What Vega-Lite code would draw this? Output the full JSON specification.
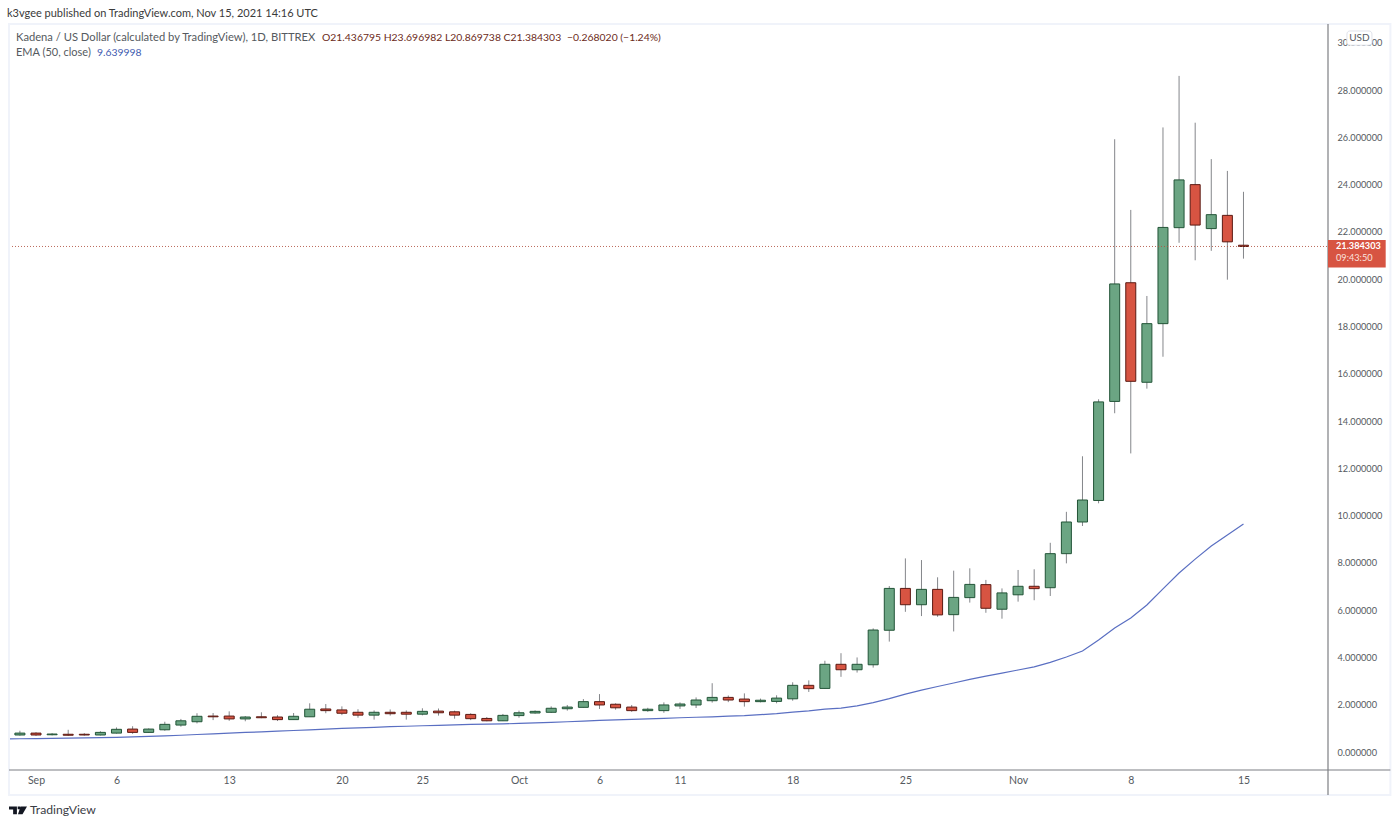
{
  "$schema": "https://vega.github.io/schema/vega-lite/v6.json",
  "description": "Kadena / US Dollar daily candles with EMA 50",
  "autosize": "none",
  "width": 1319,
  "height": 746,
  "padding": {"left": 9, "top": 24, "right": 72, "bottom": 57},
  "background": "#ffffff",
  "title": {
    "text": "k3vgee published on TradingView.com, Nov 15, 2021 14:16 UTC",
    "anchor": "start",
    "frame": "group",
    "dx": -2,
    "offset": 4,
    "font": "Lato",
    "fontSize": 11,
    "fontWeight": "normal",
    "color": "#3a3a3a"
  },
  "config": {
    "view": {"stroke": null},
    "font": "Lato",
    "text": {"font": "Lato"}
  },
  "data": {
    "values": [
      {"date": "2021-08-30", "open": 0.76, "high": 0.8, "low": 0.72, "close": 0.74, "ema": 0.55},
      {"date": "2021-08-31", "open": 0.72, "high": 0.9, "low": 0.69, "close": 0.8, "ema": 0.56},
      {"date": "2021-09-01", "open": 0.8, "high": 0.84, "low": 0.68, "close": 0.72, "ema": 0.57},
      {"date": "2021-09-02", "open": 0.73, "high": 0.8, "low": 0.7, "close": 0.76, "ema": 0.58},
      {"date": "2021-09-03", "open": 0.75, "high": 0.94, "low": 0.68, "close": 0.71, "ema": 0.59},
      {"date": "2021-09-04", "open": 0.75, "high": 0.8, "low": 0.69, "close": 0.72, "ema": 0.6},
      {"date": "2021-09-05", "open": 0.72, "high": 0.88, "low": 0.7, "close": 0.83, "ema": 0.61},
      {"date": "2021-09-06", "open": 0.8, "high": 1.04, "low": 0.78, "close": 0.96, "ema": 0.62},
      {"date": "2021-09-07", "open": 0.97, "high": 1.09, "low": 0.77, "close": 0.83, "ema": 0.64},
      {"date": "2021-09-08", "open": 0.83, "high": 1.0, "low": 0.81, "close": 0.97, "ema": 0.66},
      {"date": "2021-09-09", "open": 0.94, "high": 1.28, "low": 0.9, "close": 1.17, "ema": 0.68},
      {"date": "2021-09-10", "open": 1.14, "high": 1.4, "low": 1.07, "close": 1.32, "ema": 0.71},
      {"date": "2021-09-11", "open": 1.28, "high": 1.64, "low": 1.21, "close": 1.51, "ema": 0.74},
      {"date": "2021-09-12", "open": 1.52, "high": 1.65, "low": 1.35, "close": 1.49, "ema": 0.77},
      {"date": "2021-09-13", "open": 1.52, "high": 1.72, "low": 1.32, "close": 1.4, "ema": 0.8},
      {"date": "2021-09-14", "open": 1.4, "high": 1.52, "low": 1.3, "close": 1.48, "ema": 0.83},
      {"date": "2021-09-15", "open": 1.49, "high": 1.68, "low": 1.43, "close": 1.45, "ema": 0.85},
      {"date": "2021-09-16", "open": 1.48, "high": 1.56, "low": 1.31, "close": 1.37, "ema": 0.88},
      {"date": "2021-09-17", "open": 1.37, "high": 1.65, "low": 1.36, "close": 1.51, "ema": 0.91},
      {"date": "2021-09-18", "open": 1.49, "high": 2.06, "low": 1.49, "close": 1.81, "ema": 0.94},
      {"date": "2021-09-19", "open": 1.82, "high": 2.03, "low": 1.64, "close": 1.75, "ema": 0.97},
      {"date": "2021-09-20", "open": 1.78, "high": 1.93, "low": 1.56, "close": 1.64, "ema": 1.0},
      {"date": "2021-09-21", "open": 1.68, "high": 1.81, "low": 1.45, "close": 1.56, "ema": 1.02},
      {"date": "2021-09-22", "open": 1.56, "high": 1.76, "low": 1.37, "close": 1.68, "ema": 1.04},
      {"date": "2021-09-23", "open": 1.68, "high": 1.8, "low": 1.54, "close": 1.62, "ema": 1.07},
      {"date": "2021-09-24", "open": 1.68, "high": 1.76, "low": 1.37, "close": 1.6, "ema": 1.09},
      {"date": "2021-09-25", "open": 1.6, "high": 1.85, "low": 1.55, "close": 1.72, "ema": 1.11},
      {"date": "2021-09-26", "open": 1.73, "high": 1.84, "low": 1.54, "close": 1.66, "ema": 1.13},
      {"date": "2021-09-27", "open": 1.7, "high": 1.75, "low": 1.41, "close": 1.56, "ema": 1.15},
      {"date": "2021-09-28", "open": 1.59, "high": 1.64, "low": 1.35, "close": 1.41, "ema": 1.17},
      {"date": "2021-09-29", "open": 1.42, "high": 1.48, "low": 1.3, "close": 1.32, "ema": 1.18},
      {"date": "2021-09-30", "open": 1.32, "high": 1.61, "low": 1.31, "close": 1.55, "ema": 1.19},
      {"date": "2021-10-01", "open": 1.54, "high": 1.75, "low": 1.45, "close": 1.66, "ema": 1.21},
      {"date": "2021-10-02", "open": 1.65, "high": 1.76, "low": 1.62, "close": 1.72, "ema": 1.23},
      {"date": "2021-10-03", "open": 1.68, "high": 1.93, "low": 1.65, "close": 1.85, "ema": 1.25},
      {"date": "2021-10-04", "open": 1.83, "high": 1.99, "low": 1.75, "close": 1.9, "ema": 1.28},
      {"date": "2021-10-05", "open": 1.89, "high": 2.24, "low": 1.88, "close": 2.13, "ema": 1.31},
      {"date": "2021-10-06", "open": 2.13, "high": 2.45, "low": 1.82, "close": 1.99, "ema": 1.34},
      {"date": "2021-10-07", "open": 2.02, "high": 2.06, "low": 1.79, "close": 1.87, "ema": 1.36},
      {"date": "2021-10-08", "open": 1.9, "high": 1.99, "low": 1.7, "close": 1.75, "ema": 1.38},
      {"date": "2021-10-09", "open": 1.75, "high": 1.87, "low": 1.7, "close": 1.81, "ema": 1.4},
      {"date": "2021-10-10", "open": 1.75, "high": 2.1, "low": 1.66, "close": 1.99, "ema": 1.42},
      {"date": "2021-10-11", "open": 1.95, "high": 2.1, "low": 1.82, "close": 2.03, "ema": 1.45},
      {"date": "2021-10-12", "open": 1.99, "high": 2.31, "low": 1.86, "close": 2.2, "ema": 1.47},
      {"date": "2021-10-13", "open": 2.17, "high": 2.91, "low": 2.09, "close": 2.31, "ema": 1.49},
      {"date": "2021-10-14", "open": 2.31, "high": 2.39, "low": 2.11, "close": 2.2, "ema": 1.52},
      {"date": "2021-10-15", "open": 2.24, "high": 2.48, "low": 1.92, "close": 2.13, "ema": 1.54},
      {"date": "2021-10-16", "open": 2.13, "high": 2.26, "low": 2.1, "close": 2.19, "ema": 1.58},
      {"date": "2021-10-17", "open": 2.14, "high": 2.4, "low": 2.06, "close": 2.28, "ema": 1.62},
      {"date": "2021-10-18", "open": 2.25, "high": 2.95, "low": 2.17, "close": 2.82, "ema": 1.69},
      {"date": "2021-10-19", "open": 2.82, "high": 3.03, "low": 2.54, "close": 2.68, "ema": 1.74},
      {"date": "2021-10-20", "open": 2.69, "high": 3.86, "low": 2.68, "close": 3.71, "ema": 1.81},
      {"date": "2021-10-21", "open": 3.71, "high": 4.18, "low": 3.18, "close": 3.48, "ema": 1.86},
      {"date": "2021-10-22", "open": 3.48, "high": 4.0, "low": 3.36, "close": 3.71, "ema": 1.95},
      {"date": "2021-10-23", "open": 3.69, "high": 5.23, "low": 3.57, "close": 5.16, "ema": 2.09},
      {"date": "2021-10-24", "open": 5.15, "high": 7.02, "low": 4.67, "close": 6.92, "ema": 2.26},
      {"date": "2021-10-25", "open": 6.92, "high": 8.19, "low": 5.93, "close": 6.23, "ema": 2.45},
      {"date": "2021-10-26", "open": 6.23, "high": 8.12, "low": 5.75, "close": 6.88, "ema": 2.62},
      {"date": "2021-10-27", "open": 6.88, "high": 7.39, "low": 5.72, "close": 5.8, "ema": 2.77},
      {"date": "2021-10-28", "open": 5.81, "high": 7.67, "low": 5.1, "close": 6.54, "ema": 2.92},
      {"date": "2021-10-29", "open": 6.53, "high": 7.77, "low": 6.32, "close": 7.09, "ema": 3.07},
      {"date": "2021-10-30", "open": 7.08, "high": 7.28, "low": 5.89, "close": 6.08, "ema": 3.21},
      {"date": "2021-10-31", "open": 6.04, "high": 6.92, "low": 5.64, "close": 6.73, "ema": 3.34},
      {"date": "2021-11-01", "open": 6.65, "high": 7.7, "low": 6.36, "close": 7.01, "ema": 3.47},
      {"date": "2021-11-02", "open": 7.01, "high": 7.73, "low": 6.42, "close": 6.91, "ema": 3.6},
      {"date": "2021-11-03", "open": 6.95, "high": 8.85, "low": 6.6, "close": 8.39, "ema": 3.79},
      {"date": "2021-11-04", "open": 8.39, "high": 10.16, "low": 7.98, "close": 9.73, "ema": 4.02},
      {"date": "2021-11-05", "open": 9.73, "high": 12.51, "low": 9.56, "close": 10.66, "ema": 4.27},
      {"date": "2021-11-06", "open": 10.64, "high": 14.92, "low": 10.52, "close": 14.81, "ema": 4.74},
      {"date": "2021-11-07", "open": 14.83, "high": 25.92, "low": 14.33, "close": 19.8, "ema": 5.25},
      {"date": "2021-11-08", "open": 19.85, "high": 22.93, "low": 12.63, "close": 15.68, "ema": 5.67},
      {"date": "2021-11-09", "open": 15.64, "high": 19.29, "low": 15.37, "close": 18.12, "ema": 6.22},
      {"date": "2021-11-10", "open": 18.12, "high": 26.42, "low": 16.72, "close": 22.19, "ema": 6.9},
      {"date": "2021-11-11", "open": 22.18, "high": 28.6, "low": 21.54, "close": 24.2, "ema": 7.57},
      {"date": "2021-11-12", "open": 24.0, "high": 26.62, "low": 20.8, "close": 22.29, "ema": 8.16},
      {"date": "2021-11-13", "open": 22.14, "high": 25.08, "low": 21.2, "close": 22.73, "ema": 8.71},
      {"date": "2021-11-14", "open": 22.7, "high": 24.58, "low": 19.98, "close": 21.58, "ema": 9.18},
      {"date": "2021-11-15", "open": 21.436795, "high": 23.696982, "low": 20.869738, "close": 21.384303, "ema": 9.639998}
    ]
  },
  "layer": [
    {
      "mark": {"type": "rule", "color": "#84868a", "strokeWidth": 1, "clip": true},
      "encoding": {
        "x": {
          "field": "date",
          "type": "temporal",
          "scale": {"type": "utc", "padding": 0, "domain": [{"year": 2021, "month": 8, "date": 30, "hours": 7, "minutes": 45, "utc": true}, {"year": 2021, "month": 11, "date": 20, "hours": 6, "utc": true}]},
          "axis": {
            "title": null,
            "values": [
              {"year": 2021, "month": 9, "date": 1, "utc": true},
              {"year": 2021, "month": 9, "date": 6, "utc": true},
              {"year": 2021, "month": 9, "date": 13, "utc": true},
              {"year": 2021, "month": 9, "date": 20, "utc": true},
              {"year": 2021, "month": 9, "date": 25, "utc": true},
              {"year": 2021, "month": 10, "date": 1, "utc": true},
              {"year": 2021, "month": 10, "date": 6, "utc": true},
              {"year": 2021, "month": 10, "date": 11, "utc": true},
              {"year": 2021, "month": 10, "date": 18, "utc": true},
              {"year": 2021, "month": 10, "date": 25, "utc": true},
              {"year": 2021, "month": 11, "date": 1, "utc": true},
              {"year": 2021, "month": 11, "date": 8, "utc": true},
              {"year": 2021, "month": 11, "date": 15, "utc": true}
            ],
            "labelExpr": "utcdate(datum.value) == 1 ? utcFormat(datum.value, '%b') : utcFormat(datum.value, '%-d')",
            "grid": false,
            "ticks": false,
            "domain": false,
            "labelPadding": 5,
            "labelColor": "#555a60",
            "labelFontSize": 10.5,
            "labelFont": "Lato",
            "labelOverlap": false,
            "labelBound": false,
            "labelFlush": false
          }
        },
        "y": {
          "field": "low",
          "type": "quantitative",
          "scale": {"domain": [-0.761, 30.795], "nice": false, "zero": false},
          "axis": {
            "title": null,
            "orient": "right",
            "values": [0, 2, 4, 6, 8, 10, 12, 14, 16, 18, 20, 22, 24, 26, 28, 30],
            "format": ".6f",
            "grid": false,
            "ticks": false,
            "domain": false,
            "labelPadding": 9,
            "labelColor": "#555a60",
            "labelFontSize": 9.2,
            "labelFont": "Lato",
            "labelOverlap": false,
            "labelBound": false,
            "labelFlush": false
          }
        },
        "y2": {"field": "high"}
      }
    },
    {
      "mark": {"type": "bar", "size": 10, "strokeWidth": 1, "clip": true},
      "encoding": {
        "x": {"field": "date", "type": "temporal"},
        "y": {"field": "open", "type": "quantitative"},
        "y2": {"field": "close"},
        "fill": {"condition": {"test": "datum.close >= datum.open", "value": "#6ba583"}, "value": "#d75442"},
        "stroke": {"condition": {"test": "datum.close >= datum.open", "value": "#225437"}, "value": "#5b1a13"}
      }
    },
    {
      "mark": {"type": "line", "color": "#5a6fc2", "strokeWidth": 1.2, "clip": true},
      "encoding": {
        "x": {"field": "date", "type": "temporal"},
        "y": {"field": "ema", "type": "quantitative"}
      }
    },
    {
      "data": {"values": [{"price": 21.384303}]},
      "mark": {"type": "rule", "color": "#b0503f", "strokeWidth": 1, "strokeDash": [1, 2], "opacity": 0.85},
      "encoding": {
        "y": {"field": "price", "type": "quantitative"},
        "x": {"datum": {"year": 2021, "month": 8, "date": 30, "hours": 7, "minutes": 45, "utc": true}, "type": "temporal"},
        "x2": {"datum": {"year": 2021, "month": 11, "date": 20, "hours": 6, "utc": true}}
      }
    },
    {
      "data": {"values": [{"note": "frame"}]},
      "mark": {"type": "rect", "fillOpacity": 0, "stroke": "#f0f3fa", "strokeWidth": 2, "clip": false},
      "encoding": {
        "x": {"datum": {"year": 2021, "month": 8, "date": 30, "hours": 7, "minutes": 45, "utc": true}, "type": "temporal"},
        "x2": {"datum": {"year": 2021, "month": 11, "date": 24, "hours": 3, "utc": true}},
        "y": {"datum": -1.82, "type": "quantitative"},
        "y2": {"datum": 30.795}
      }
    },
    {
      "data": {"values": [{"note": "time axis"}]},
      "mark": {"type": "rule", "color": "#7d7f83", "strokeWidth": 1.2, "clip": false},
      "encoding": {
        "x": {"datum": {"year": 2021, "month": 8, "date": 30, "hours": 7, "minutes": 45, "utc": true}, "type": "temporal"},
        "x2": {"datum": {"year": 2021, "month": 11, "date": 24, "hours": 3, "utc": true}},
        "y": {"datum": -0.761, "type": "quantitative"}
      }
    },
    {
      "data": {"values": [{"note": "price axis"}]},
      "mark": {"type": "rule", "color": "#7d7f83", "strokeWidth": 1.2, "clip": false},
      "encoding": {
        "x": {"datum": {"year": 2021, "month": 11, "date": 20, "hours": 6, "utc": true}, "type": "temporal"},
        "y": {"datum": -1.82, "type": "quantitative"},
        "y2": {"datum": 30.795}
      }
    },
    {
      "data": {"values": [{"note": "last price tag"}]},
      "mark": {"type": "rect", "color": "#d75442", "clip": false},
      "encoding": {
        "x": {"datum": {"year": 2021, "month": 11, "date": 20, "hours": 6, "utc": true}, "type": "temporal"},
        "x2": {"datum": {"year": 2021, "month": 11, "date": 23, "hours": 20, "utc": true}},
        "y": {"datum": 21.66, "type": "quantitative"},
        "y2": {"datum": 20.5}
      }
    },
    {
      "data": {"values": [{"label": "21.384303"}]},
      "mark": {"type": "text", "align": "left", "baseline": "middle", "dx": 8, "color": "#ffffff", "fontWeight": "bold", "fontSize": 9.2},
      "encoding": {
        "x": {"datum": {"year": 2021, "month": 11, "date": 20, "hours": 6, "utc": true}, "type": "temporal"},
        "y": {"datum": 21.41, "type": "quantitative"},
        "text": {"field": "label"}
      }
    },
    {
      "data": {"values": [{"label": "09:43:50"}]},
      "mark": {"type": "text", "align": "left", "baseline": "middle", "dx": 8, "color": "#fbe3df", "fontSize": 9.2},
      "encoding": {
        "x": {"datum": {"year": 2021, "month": 11, "date": 20, "hours": 6, "utc": true}, "type": "temporal"},
        "y": {"datum": 20.89, "type": "quantitative"},
        "text": {"field": "label"}
      }
    },
    {
      "data": {"values": [{"note": "currency box"}]},
      "mark": {"type": "rect", "fill": "#ffffff", "stroke": "#e0e3eb", "strokeWidth": 1, "cornerRadius": 3, "clip": false},
      "encoding": {
        "x": {"datum": {"year": 2021, "month": 11, "date": 21, "hours": 10, "minutes": 15, "utc": true}, "type": "temporal"},
        "x2": {"datum": {"year": 2021, "month": 11, "date": 22, "hours": 23, "minutes": 30, "utc": true}},
        "y": {"datum": 30.5, "type": "quantitative"},
        "y2": {"datum": 29.9}
      }
    },
    {
      "data": {"values": [{"label": "USD"}]},
      "mark": {"type": "text", "align": "center", "baseline": "middle", "color": "#555a60", "fontSize": 10},
      "encoding": {
        "x": {"datum": {"year": 2021, "month": 11, "date": 22, "hours": 4, "minutes": 50, "utc": true}, "type": "temporal"},
        "y": {"datum": 30.2, "type": "quantitative"},
        "text": {"field": "label"}
      }
    },
    {
      "data": {"values": [{"label": "Kadena / US Dollar (calculated by TradingView), 1D, BITTREX"}]},
      "mark": {"type": "text", "align": "left", "baseline": "middle", "dx": 7, "color": "#555a60", "fontSize": 11.2},
      "encoding": {
        "x": {"datum": {"year": 2021, "month": 8, "date": 30, "hours": 7, "minutes": 45, "utc": true}, "type": "temporal"},
        "y": {"datum": 30.2, "type": "quantitative"},
        "text": {"field": "label"}
      }
    },
    {
      "data": {"values": [{"label": "O21.436795 H23.696982 L20.869738 C21.384303"}]},
      "mark": {"type": "text", "align": "left", "baseline": "middle", "dx": 313, "color": "#6b2a20", "fontSize": 10.4},
      "encoding": {
        "x": {"datum": {"year": 2021, "month": 8, "date": 30, "hours": 7, "minutes": 45, "utc": true}, "type": "temporal"},
        "y": {"datum": 30.2, "type": "quantitative"},
        "text": {"field": "label"}
      }
    },
    {
      "data": {"values": [{"label": "−0.268020 (−1.24%)"}]},
      "mark": {"type": "text", "align": "left", "baseline": "middle", "dx": 558, "color": "#6b2a20", "fontSize": 10.4},
      "encoding": {
        "x": {"datum": {"year": 2021, "month": 8, "date": 30, "hours": 7, "minutes": 45, "utc": true}, "type": "temporal"},
        "y": {"datum": 30.2, "type": "quantitative"},
        "text": {"field": "label"}
      }
    },
    {
      "data": {"values": [{"label": "EMA (50, close)"}]},
      "mark": {"type": "text", "align": "left", "baseline": "middle", "dx": 7, "color": "#555a60", "fontSize": 11},
      "encoding": {
        "x": {"datum": {"year": 2021, "month": 8, "date": 30, "hours": 7, "minutes": 45, "utc": true}, "type": "temporal"},
        "y": {"datum": 29.57, "type": "quantitative"},
        "text": {"field": "label"}
      }
    },
    {
      "data": {"values": [{"label": "9.639998"}]},
      "mark": {"type": "text", "align": "left", "baseline": "middle", "dx": 88, "color": "#3f5bb0", "fontSize": 10.4},
      "encoding": {
        "x": {"datum": {"year": 2021, "month": 8, "date": 30, "hours": 7, "minutes": 45, "utc": true}, "type": "temporal"},
        "y": {"datum": 29.57, "type": "quantitative"},
        "text": {"field": "label"}
      }
    },
    {
      "data": {"values": [{"note": "logo"}]},
      "mark": {
        "type": "point",
        "filled": true,
        "clip": false,
        "size": 1296,
        "color": "#131722",
        "opacity": 1,
        "shape": "M-0.5,-0.22H-0.06V0.22H-0.27V-0.05H-0.5ZM-0.02,-0.22H0.12V-0.07H-0.02ZM0.14,-0.22H0.5L0.25,0.22H0.0Z"
      },
      "encoding": {
        "x": {"datum": {"year": 2021, "month": 8, "date": 30, "hours": 21, "minutes": 10, "utc": true}, "type": "temporal"},
        "y": {"datum": -2.47, "type": "quantitative"}
      }
    },
    {
      "data": {"values": [{"label": "TradingView"}]},
      "mark": {"type": "text", "align": "left", "baseline": "middle", "dx": 21, "color": "#3a3d45", "fontSize": 12.2},
      "encoding": {
        "x": {"datum": {"year": 2021, "month": 8, "date": 30, "hours": 7, "minutes": 45, "utc": true}, "type": "temporal"},
        "y": {"datum": -2.47, "type": "quantitative"},
        "text": {"field": "label"}
      }
    }
  ]
}
